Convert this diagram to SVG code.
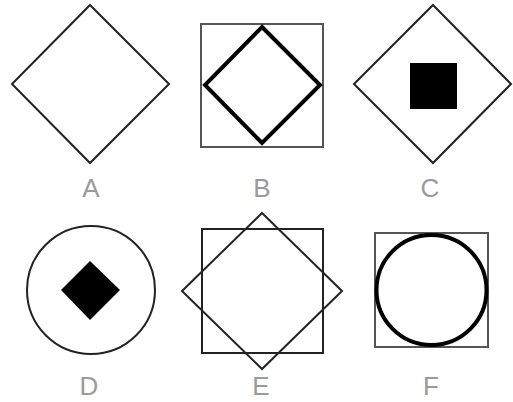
<svg xmlns="http://www.w3.org/2000/svg" width="513" height="402" viewBox="0 0 513 402">
<style>
.thin{fill:none;stroke:#222;stroke-width:2}
.gray{fill:none;stroke:#555;stroke-width:2}
.thick{fill:none;stroke:#000;stroke-width:4}
.solid{fill:#000;stroke:none}
.lbl{font-family:"Liberation Sans",Arial,sans-serif;font-size:26px;fill:#9a9a9a;text-anchor:middle}
</style>
<rect width="513" height="402" fill="#fff"/>
<g id="A">
<polygon class="thin" points="90,5 169,84 90,163 12,84"/>
<text class="lbl" x="91" y="197">A</text>
</g>
<g id="B">
<rect class="gray" x="201" y="24" width="122" height="123"/>
<polygon class="thick" points="262,27 320,85 262,143 205,85"/>
<text class="lbl" x="262" y="197">B</text>
</g>
<g id="C">
<polygon class="thin" points="433,5 511,84 433,163 354,84"/>
<rect class="solid" x="410" y="63" width="47" height="46"/>
<text class="lbl" x="430" y="197">C</text>
</g>
<g id="D">
<circle class="thin" cx="91" cy="290" r="64"/>
<polygon class="solid" points="90,261 120,290 90,320 61,290"/>
<text class="lbl" x="89" y="395">D</text>
</g>
<g id="E">
<rect class="thin" x="202" y="229" width="121" height="124"/>
<polygon class="thin" points="262,213 342,291 262,369 182,291"/>
<text class="lbl" x="261" y="395">E</text>
</g>
<g id="F">
<rect class="gray" x="375" y="233" width="113" height="114"/>
<circle class="thick" cx="431.5" cy="290" r="55"/>
<text class="lbl" x="431" y="395">F</text>
</g>
</svg>
